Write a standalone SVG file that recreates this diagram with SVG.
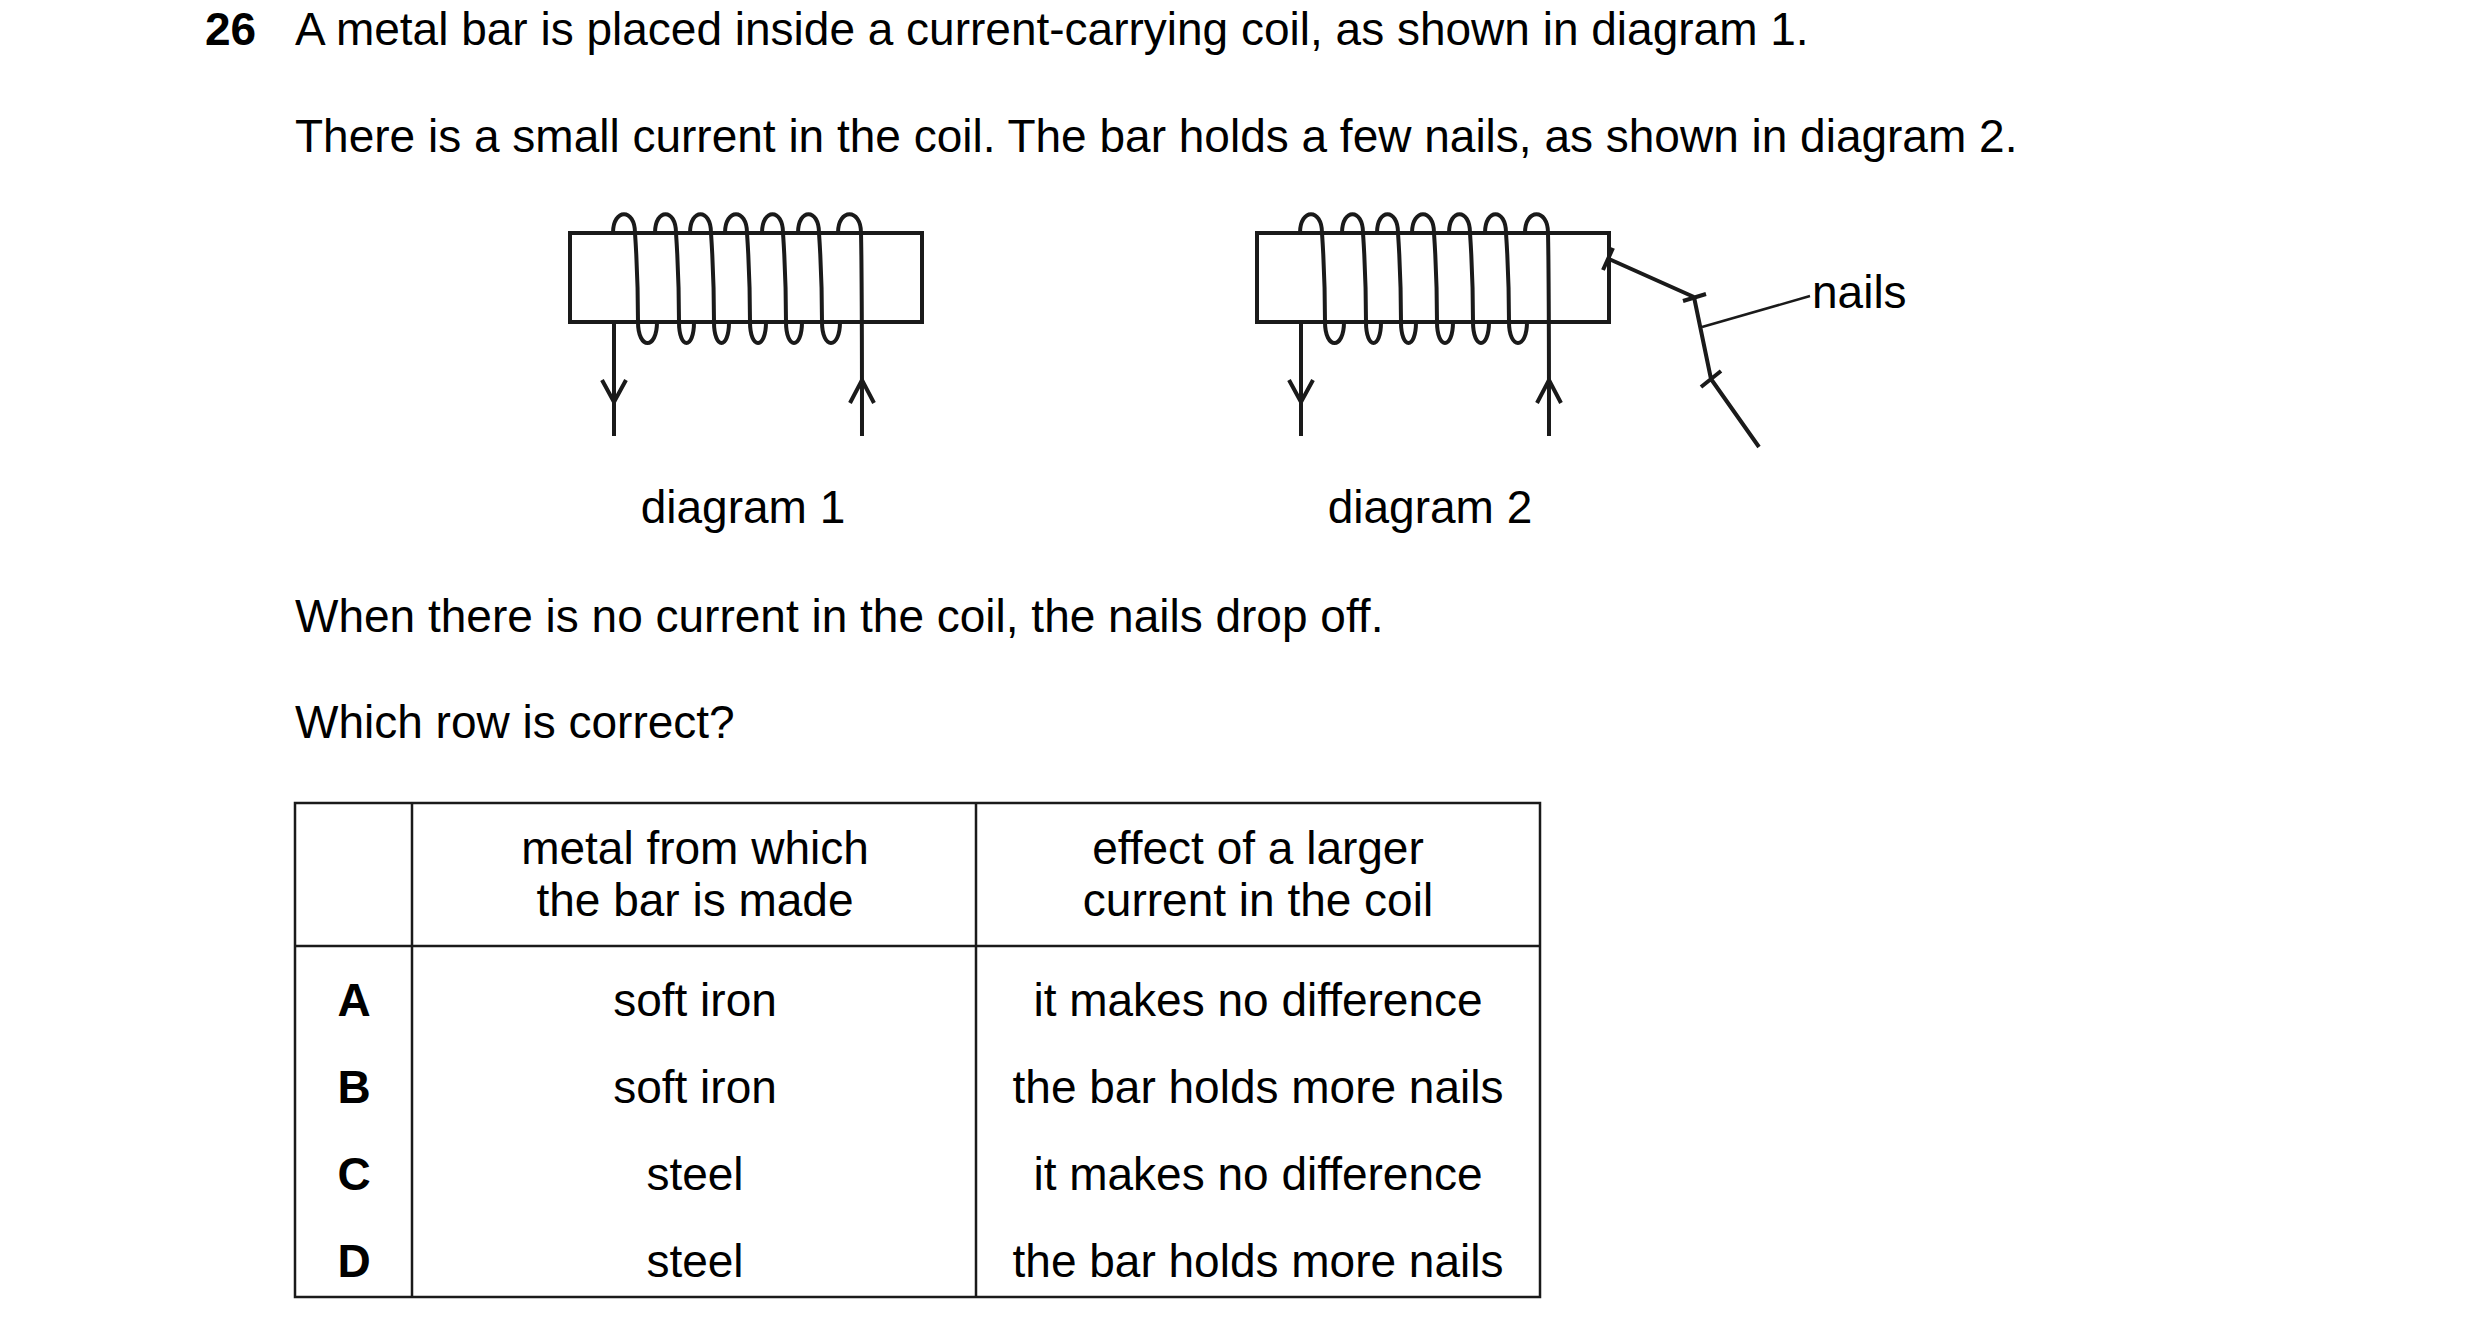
<svg xmlns="http://www.w3.org/2000/svg" width="2480" height="1340" viewBox="0 0 2480 1340">
<style>
text{font-family:"Liberation Sans",Arial,sans-serif;font-size:46px;fill:#000}
.b{font-weight:bold}
.m{text-anchor:middle}
.s{fill:none;stroke:#1a1a1a;stroke-width:4;stroke-linecap:butt}
.t{fill:none;stroke:#1a1a1a;stroke-width:2.5}
</style>
<defs>
<g id="coil">
<rect class="s" x="570" y="233" width="352" height="89"/>
<path class="s" d="M613,233 C613,208 635,208 635,233 Q638,277 638,322 C638,350 657,350 657,322"/>
<path class="s" d="M655,233 C655,208 676,208 676,233 Q679,277 679,322 C679,350 694,350 694,322"/>
<path class="s" d="M690,233 C690,208 711,208 711,233 Q714,277 714,322 C714,350 729,350 729,322"/>
<path class="s" d="M725,233 C725,208 747,208 747,233 Q750,277 750,322 C750,350 766,350 766,322"/>
<path class="s" d="M762,233 C762,208 783,208 783,233 Q786,277 786,322 C786,350 802,350 802,322"/>
<path class="s" d="M798,233 C798,208 819,208 819,233 Q822,277 822,322 C822,350 840,350 840,322"/>
<path class="s" d="M838,233 C838,208 861,208 861,233 Q862,277 862,436"/>
<path class="s" d="M614,322 L614,436 M602,380 L614,402 L626,380"/>
<path class="s" d="M850,403 L862,380 L874,403"/>
</g>
</defs>
<rect width="2480" height="1340" fill="#fff"/>
<text class="b" x="205" y="45">26</text>
<text x="295" y="45">A metal bar is placed inside a current-carrying coil, as shown in diagram 1.</text>
<text x="295" y="152">There is a small current in the coil. The bar holds a few nails, as shown in diagram 2.</text>

<g id="diagram1">
<use href="#coil"/>
</g>
<text class="m" x="743" y="523">diagram 1</text>

<g id="diagram2">
<use href="#coil" transform="translate(687,0)"/>
<path class="s" d="M1609,259 L1694,297 M1603,270 L1613,248 M1683,301 L1706,294"/>
<path class="s" d="M1694,297 L1711,379 M1701,387 L1721,371 M1711,379 L1759,447"/>
<path class="t" d="M1702,327 L1810,296"/>
</g>
<text x="1812" y="308">nails</text>
<text class="m" x="1430" y="523">diagram 2</text>

<text x="295" y="632">When there is no current in the coil, the nails drop off.</text>
<text x="295" y="738">Which row is correct?</text>

<g id="table">
<rect class="t" x="295" y="803" width="1245" height="494"/>
<path class="t" d="M412,803 V1297 M976,803 V1297 M295,946 H1540"/>
<text class="m" x="695" y="864">metal from which</text>
<text class="m" x="695" y="916">the bar is made</text>
<text class="m" x="1258" y="864">effect of a larger</text>
<text class="m" x="1258" y="916">current in the coil</text>
<text class="b m" x="354" y="1016">A</text>
<text class="b m" x="354" y="1103">B</text>
<text class="b m" x="354" y="1190">C</text>
<text class="b m" x="354" y="1277">D</text>
<text class="m" x="695" y="1016">soft iron</text>
<text class="m" x="695" y="1103">soft iron</text>
<text class="m" x="695" y="1190">steel</text>
<text class="m" x="695" y="1277">steel</text>
<text class="m" x="1258" y="1016">it makes no difference</text>
<text class="m" x="1258" y="1103">the bar holds more nails</text>
<text class="m" x="1258" y="1190">it makes no difference</text>
<text class="m" x="1258" y="1277">the bar holds more nails</text>
</g>
</svg>
